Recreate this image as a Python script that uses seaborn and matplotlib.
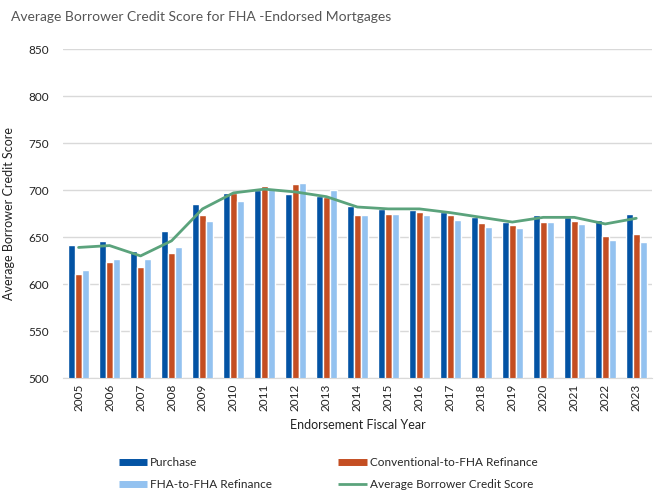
import matplotlib
matplotlib.use("Agg")
import matplotlib.pyplot as plt
from matplotlib.lines import Line2D
import seaborn as sns
import pandas as pd

years = [str(y) for y in range(2005, 2024)]
purchase = [642, 646, 635, 656, 685, 697, 700, 696, 694, 683, 680, 679, 677, 671, 666, 673, 671, 668, 675]
conventional = [611, 623, 618, 633, 673, 697, 704, 706, 693, 674, 675, 677, 674, 665, 663, 666, 667, 651, 653]
fha_refi = [615, 627, 627, 639, 667, 688, 701, 707, 700, 674, 675, 673, 668, 661, 660, 666, 664, 647, 645]
average = [639, 641, 630, 646, 680, 697, 701, 698, 693, 682, 680, 680, 676, 671, 666, 671, 671, 664, 670]

series_names = ["Purchase", "Conventional-to-FHA Refinance", "FHA-to-FHA Refinance"]
colors = ["#0353A4", "#C44E22", "#93C2F0"]
line_color = "#5BA37C"

df = pd.DataFrame({
    "year": years * 3,
    "score": purchase + conventional + fha_refi,
    "type": [series_names[0]] * 19 + [series_names[1]] * 19 + [series_names[2]] * 19,
})

sns.set_style("white")
plt.rcParams["font.family"] = ["Lato", "DejaVu Sans"]

fig = plt.figure(figsize=(6.57, 4.95), dpi=100)
ax = fig.add_axes([0.096, 0.236, 0.896, 0.665])

sns.barplot(data=df, x="year", y="score", hue="type", palette=colors,
            width=0.68, gap=0, ax=ax, legend=False, saturation=1)
sns.lineplot(x=list(range(len(years))), y=average, color=line_color,
             linewidth=2, ax=ax, legend=False)

ax.set_ylim(500, 850)
ax.set_xlim(-0.5, len(years) - 0.5)
ax.set_yticks(range(500, 851, 50))
ax.yaxis.grid(True, color="#D9D9D9", linewidth=1)
ax.set_axisbelow(True)
for s in ["top", "right", "left"]:
    ax.spines[s].set_visible(False)
ax.spines["bottom"].set_color("#D9D9D9")
ax.tick_params(axis="both", length=0, labelsize=8.5, colors="#222222")
ax.tick_params(axis="x", rotation=90, pad=4)
ax.tick_params(axis="y", pad=10)
ax.set_xlabel("Endorsement Fiscal Year", fontsize=9, color="#222222", labelpad=6)
ax.set_ylabel("Average Borrower Credit Score", fontsize=9, color="#222222", labelpad=10)

fig.text(0.017, 0.965, "Average Borrower Credit Score for FHA -Endorsed Mortgages",
         fontsize=10, color="#555555", va="center")

handles = [
    Line2D([], [], color=colors[0], linewidth=5, solid_capstyle="butt"),
    Line2D([], [], color=colors[1], linewidth=5, solid_capstyle="butt"),
    Line2D([], [], color=colors[2], linewidth=5, solid_capstyle="butt"),
    Line2D([], [], color=line_color, linewidth=2, solid_capstyle="butt"),
]
labels = [series_names[0], series_names[1], series_names[2], "Average Borrower Credit Score"]
# order so that ncol=2 fills rows: Purchase | Conventional / FHA | Average
order = [0, 2, 1, 3]
fig.legend([handles[i] for i in order], [labels[i] for i in order], ncol=2,
           loc="center left", bbox_to_anchor=(0.165, 0.043), frameon=False,
           fontsize=8.5, handlelength=2.4, handletextpad=0.25, columnspacing=5.6,
           labelspacing=0.95)

fig.savefig("out.png", dpi=100)
